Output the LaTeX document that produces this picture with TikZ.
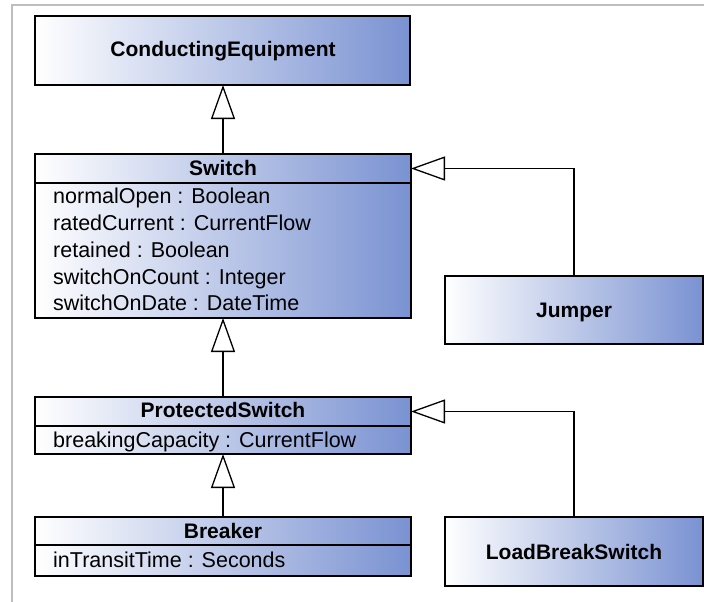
\documentclass[tikz,border=0pt]{standalone}
\usepackage{fontspec}
\setmainfont{Liberation Sans}
\usetikzlibrary{arrows.meta}
\definecolor{umlblue}{RGB}{122,146,210}
\definecolor{framegrey}{RGB}{190,190,190}
\begin{document}
\begin{tikzpicture}[x=1pt,y=-1pt,
  cls/.style={draw=black, line width=1.4pt, left color=white, right color=umlblue,
    inner sep=0pt, outer sep=0pt, anchor=north west},
  hdr/.style={inner sep=0pt, outer sep=0pt, anchor=north west},
  cname/.style={font=\fontsize{21}{25}\selectfont\bfseries, inner sep=0pt, anchor=base},
  attr/.style={font=\fontsize{21.5}{26.7}\selectfont, inner sep=0pt, anchor=base west, align=left},
  gen/.style={line width=1.3pt, -{Triangle[open, length=34pt, width=24pt, fill=white, line width=1.3pt]}}
]
\useasboundingbox (0,0) rectangle (704,602);
\fill[white] (0,0) rectangle (704,602);
\draw[framegrey, line width=2.2pt] (12,602) -- (12,5) -- (704,5);

% ConductingEquipment
\node[cls, minimum width=375pt, minimum height=69pt] (ce) at (35,16) {};
\node[cname] (cen) at (223,57) {ConductingEquipment};

% Switch
\node[cls, minimum width=376pt, minimum height=164pt] (sw) at (35,154) {};
\node[hdr, minimum width=376pt, minimum height=29pt] (swh) at (35,154) {};
\draw[line width=1.4pt] (swh.south west) -- (swh.south east);
\node[cname] (swn) at (223,175) {Switch};
\node[attr] (swa) at (53,310.7) {normalOpen : Boolean\\ratedCurrent : CurrentFlow\\retained : Boolean\\switchOnCount : Integer\\switchOnDate : DateTime};

% ProtectedSwitch
\node[cls, minimum width=376pt, minimum height=57pt] (ps) at (35,397) {};
\node[hdr, minimum width=376pt, minimum height=29pt] (psh) at (35,397) {};
\draw[line width=1.4pt] (psh.south west) -- (psh.south east);
\node[cname] (psn) at (223,417) {ProtectedSwitch};
\node[attr] (psa) at (53,447) {breakingCapacity : CurrentFlow};

% Breaker
\node[cls, minimum width=376pt, minimum height=59pt] (br) at (35,517) {};
\node[hdr, minimum width=376pt, minimum height=28pt] (brh) at (35,517) {};
\draw[line width=1.4pt] (brh.south west) -- (brh.south east);
\node[cname] (brn) at (223,538) {Breaker};
\node[attr] (bra) at (53,567) {inTransitTime : Seconds};

% Jumper
\node[cls, minimum width=258pt, minimum height=68pt] (jp) at (445,276) {};
\node[cname] (jpn) at (574,317) {Jumper};

% LoadBreakSwitch
\node[cls, minimum width=258pt, minimum height=69pt] (lb) at (445,517) {};
\node[cname] (lbn) at (574,559) {LoadBreakSwitch};

% generalizations
\draw[gen] (sw.north) -- (sw.north |- ce.south);
\draw[gen] (ps.north) -- (sw.south);
\draw[gen] (br.north) -- (ps.south);
\draw[gen] (jp.north) |- (swh.east);
\draw[gen] (lb.north) |- (psh.east);
\end{tikzpicture}
\end{document}
